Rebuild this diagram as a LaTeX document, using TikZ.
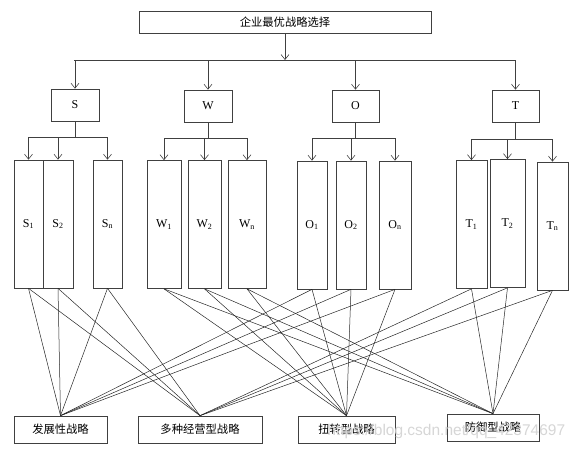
\documentclass[tikz,border=0pt]{standalone}
\usepackage{fontspec}
\setmainfont{Liberation Serif}
\newfontfamily\cjk{Noto Sans CJK SC}
\newfontfamily\wmfont{Liberation Sans}
\usetikzlibrary{arrows.meta}
\begin{document}
\begin{tikzpicture}[x=1pt,y=-1pt,
  line width=0.7pt,
  box/.style={draw=black!75, fill=white, inner sep=0pt, font=\fontsize{12}{14}\selectfont},
  cbox/.style={box, font=\cjk\fontsize{11.3}{13}\selectfont},
  col/.style={box, minimum height=128pt},
  conn/.style={draw=black!75, line width=0.6pt},
  arr/.style={conn, -{Straight Barb[length=5pt,width=8pt,line width=0.6pt]}},
  link/.style={draw=black!85, line width=0.5pt}]
\useasboundingbox (0,0) rectangle (579,450);

% top
\node[cbox, minimum width=292pt, minimum height=22pt] (top) at (285,22) {企业最优战略选择};
\coordinate (barL) at (74,60);
\coordinate (barR) at (516,60);

% level-1 boxes
\node[box, minimum width=48pt, minimum height=32pt] (S) at (75,105) {S};
\node[box, minimum width=48pt, minimum height=32pt] (W) at (208,106) {W};
\node[box, minimum width=47pt, minimum height=32pt] (O) at (355.5,106) {O};
\node[box, minimum width=47pt, minimum height=32pt] (T) at (515.5,106) {T};

% level-2 columns
\node[col, minimum width=29pt] (S1) at (28.5,224) {S\textsubscript{1}};
\node[col, minimum width=30pt] (S2) at (58,224) {S\textsubscript{2}};
\node[col, minimum width=29pt] (Sn) at (107.5,224) {S\textsubscript{n}};
\node[col, minimum width=34pt] (W1) at (164,224.5) {W\textsubscript{1}};
\node[col, minimum width=33pt] (W2) at (204.5,224.5) {W\textsubscript{2}};
\node[col, minimum width=38pt] (Wn) at (247,224.5) {W\textsubscript{n}};
\node[col, minimum width=30pt] (O1) at (312,225) {O\textsubscript{1}};
\node[col, minimum width=30pt] (O2) at (351,225) {O\textsubscript{2}};
\node[col, minimum width=32pt] (On) at (395,225) {O\textsubscript{n}};
\node[col, minimum width=31pt] (T1) at (471.5,224.5) {T\textsubscript{1}};
\node[col, minimum width=35pt] (T2) at (507.5,223.5) {T\textsubscript{2}};
\node[col, minimum width=31pt] (Tn) at (552.5,226) {T\textsubscript{n}};

% strategies
\node[cbox, minimum width=93pt, minimum height=27pt] (F) at (60.5,429.5) {发展性战略};
\node[cbox, minimum width=124pt, minimum height=27pt] (D) at (200,429.5) {多种经营型战略};
\node[cbox, minimum width=97pt, minimum height=27pt] (N) at (346.5,429.5) {扭转型战略};
\node[cbox, minimum width=92pt, minimum height=27pt] (Y) at (493,427.5) {防御型战略};

% top connectors
\draw[arr] (top.south) -- (top.south |- barL);
\draw[conn] (barL) -- (barR);
\foreach \b in {S,W,O,T} \draw[arr] (\b.north |- barL) -- (\b.north);

% group connectors
\coordinate (Sb) at (0,137);
\coordinate (Wb) at (0,138);
\coordinate (Ob) at (0,138);
\coordinate (Tb) at (0,139);
\foreach \g/\a/\c in {S/S1/Sn, W/W1/Wn, O/O1/On, T/T1/Tn}{
  \draw[conn] (\g.south) -- (\g.south |- \g b);
  \draw[conn] (\a.north |- \g b) -- (\c.north |- \g b);
}
\foreach \g/\k in {S/S1,S/S2,S/Sn,W/W1,W/W2,W/Wn,O/O1,O/O2,O/On,T/T1,T/T2,T/Tn}
  \draw[arr] (\k.north |- \g b) -- (\k.north);

% links to strategies
\foreach \k in {S1,S2,Sn} { \draw[link] (\k.south) -- (F.north); \draw[link] (\k.south) -- (D.north); }
\foreach \k in {W1,W2,Wn} { \draw[link] (\k.south) -- (N.north); \draw[link] (\k.south) -- (Y.north); }
\foreach \k in {O1,O2,On} { \draw[link] (\k.south) -- (F.north); \draw[link] (\k.south) -- (N.north); }
\foreach \k in {T1,T2,Tn} { \draw[link] (\k.south) -- (D.north); \draw[link] (\k.south) -- (Y.north); }

% watermark
\node[text=black!16, font=\wmfont\fontsize{15.5}{17}\selectfont, anchor=base west, inner sep=0pt] (wm) at (327,435) {https://blog.csdn.net/qq\_42374697};
\end{tikzpicture}
\end{document}
